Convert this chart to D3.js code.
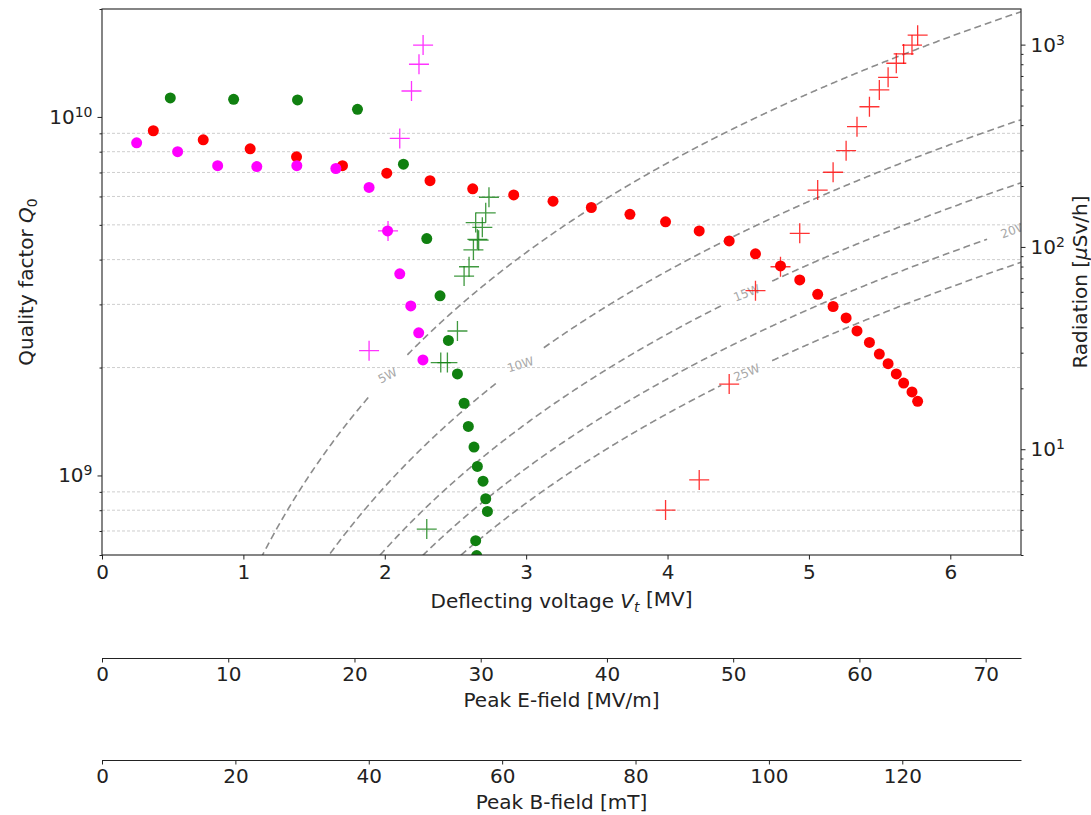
<!DOCTYPE html>
<html>
<head>
<meta charset="utf-8">
<script src="https://cdn.jsdelivr.net/npm/d3@7"></script>
<style>
  body { margin: 0; background: #fff; }
  svg text { font-family: "DejaVu Sans", sans-serif; fill: #222; }
  .axis path, .axis line { stroke: #222; }
</style>
</head>
<body>
<div id="chart"></div>
<script>
// Q0 vs deflecting voltage (circles, left axis)
const magentaV = [0.245, 0.535, 0.818, 1.095, 1.378, 1.654, 1.889, 2.02, 2.106, 2.184, 2.24, 2.27];
const magentaQ = [8.47e9, 8.0e9, 7.31e9, 7.27e9, 7.31e9, 7.18e9, 6.36e9, 4.81e9, 3.65e9, 2.97e9, 2.5e9, 2.1e9];

const redV = [0.363, 0.716, 1.048, 1.376, 1.701, 2.014, 2.32, 2.622, 2.912, 3.19, 3.461, 3.734, 3.986, 4.224,
  4.436, 4.622, 4.799, 4.935, 5.062, 5.171, 5.263, 5.34, 5.428, 5.498, 5.56, 5.618, 5.67, 5.729, 5.769];
const redQ = [9.15e9, 8.63e9, 8.15e9, 7.74e9, 7.31e9, 6.97e9, 6.64e9, 6.30e9, 6.06e9, 5.82e9, 5.59e9, 5.35e9, 5.10e9, 4.81e9,
  4.51e9, 4.15e9, 3.84e9, 3.51e9, 3.20e9, 2.96e9, 2.75e9, 2.53e9, 2.35e9, 2.18e9, 2.05e9, 1.92e9, 1.81e9, 1.71e9, 1.61e9];

const greenV = [0.483, 0.931, 1.383, 1.807, 2.132, 2.297, 2.391, 2.45, 2.514, 2.561, 2.591, 2.631, 2.655, 2.695, 2.714, 2.726, 2.643, 2.65];
const greenQ = [1.13e10, 1.12e10, 1.115e10, 1.05e10, 7.38e9, 4.58e9, 3.17e9, 2.38e9, 1.92e9, 1.59e9, 1.37e9, 1.2e9, 1.06e9,
  9.64e8, 8.61e8, 7.94e8, 6.58e8, 5.98e8];

// radiation vs deflecting voltage (crosses, right axis)
const magentaRadV = [1.889, 2.023, 2.106, 2.189, 2.242, 2.271];
const magentaRad = [30.7, 120, 344, 590, 800, 995];

const redRadV = [3.986, 4.224, 4.436, 4.622, 4.799, 4.935, 5.062, 5.171, 5.263, 5.34, 5.428, 5.498, 5.56, 5.618, 5.67, 5.729, 5.769];
const redRad = [5.0, 7.05, 21.0, 60.8, 79.8, 116.7, 191, 234, 299, 393, 493, 597, 689, 809, 900, 995, 1114];

const greenRadV = [2.297, 2.396, 2.443, 2.514, 2.561, 2.596, 2.627, 2.655, 2.664, 2.643, 2.69, 2.714, 2.737];
const greenRad = [4.03, 26.8, 26.8, 38.4, 71.8, 79.8, 96.6, 109, 108, 132, 125, 147.5, 176];

// dissipated power iso-lines, Q0 = Vt^2 / (R/Q * P)
const rOverQ = 430;
const powers = [5, 10, 15, 20, 25];
const powerLabels = ["5W", "10W", "15W", "20W", "25W"];
const powerLabelV = [2.02, 2.96, 4.56, 6.45, 4.56];
const powerLabelAngle = [-27, -17, -21, -20, -22];

// tick values
const vTicks = [0, 1, 2, 3, 4, 5, 6];
const eTicks = [0, 10, 20, 30, 40, 50, 60, 70];
const bTicks = [0, 20, 40, 60, 80, 100, 120];
const qMajor = [1e9, 1e10];
const radMajor = [1e1, 1e2, 1e3];

const ePerV = 11.2;  // MV/m per MV
const bPerV = 21.2;  // mT per MV

const width = 1091, height = 815;
const plot = { left: 102, right: 1021, top: 9, bottom: 555 };
const vMax = 6.5;
const fs = "20px";

const svg = d3.select("#chart").append("svg")
  .attr("width", width)
  .attr("height", height);

const xScale = d3.scaleLinear().domain([0, vMax]).range([plot.left, plot.right]);
const yQ = d3.scaleLog().domain([6e8, 2e10]).range([plot.bottom, plot.top]);
const yRad = d3.scaleLog().domain([3, 1500]).range([plot.bottom, plot.top]);

svg.append("defs").append("clipPath").attr("id", "clip")
  .append("rect")
  .attr("x", plot.left).attr("y", plot.top)
  .attr("width", plot.right - plot.left).attr("height", plot.bottom - plot.top);

function minorTicks(lo, hi) {
  const out = [];
  for (let e = Math.floor(Math.log10(lo)); e <= Math.ceil(Math.log10(hi)); e++) {
    for (let m = 2; m <= 9; m++) {
      const v = m * Math.pow(10, e);
      if (v >= lo * 0.999 && v <= hi * 1.001) out.push(v);
    }
  }
  return out;
}
const qMinor = minorTicks(6e8, 2e10);
const radMinor = minorTicks(3, 1500);

// grid on the minor Q ticks
svg.append("g")
  .selectAll("line")
  .data(qMinor.filter(d => yQ(d) > plot.top + 1 && yQ(d) < plot.bottom - 1))
  .join("line")
  .attr("x1", plot.left).attr("x2", plot.right)
  .attr("y1", d => yQ(d)).attr("y2", d => yQ(d))
  .attr("stroke", "#c8c8c8")
  .attr("stroke-width", 0.9)
  .attr("stroke-dasharray", "3,2");

// power lines
const gPow = svg.append("g").attr("clip-path", "url(#clip)");
const vSamples = d3.range(0.02, vMax + 0.005, 0.005);
powers.forEach((p, i) => {
  const lx = xScale(powerLabelV[i]);
  const ly = yQ(Math.pow(powerLabelV[i] * 1e6, 2) / (rOverQ * p));
  const pts = vSamples.map(v => {
    const q = Math.pow(v * 1e6, 2) / (rOverQ * p);
    const px = xScale(v), py = yQ(Math.max(q, 1e7));
    return { x: px, y: py, gap: Math.hypot(px - lx, py - ly) < 28 };
  });
  gPow.append("path")
    .datum(pts)
    .attr("fill", "none")
    .attr("stroke", "#8c8c8c")
    .attr("stroke-width", 1.6)
    .attr("stroke-dasharray", "7,4")
    .attr("d", d3.line().defined(d => !d.gap).x(d => d.x).y(d => d.y));
  gPow.append("text")
    .attr("transform", `translate(${lx},${ly}) rotate(${powerLabelAngle[i]})`)
    .attr("text-anchor", "middle")
    .attr("dominant-baseline", "central")
    .style("font-size", "12px")
    .style("fill", "#a8a8a8")
    .text(powerLabels[i]);
});

// markers
const gMarks = svg.append("g").attr("clip-path", "url(#clip)");
function circles(vs, qs, color) {
  gMarks.append("g")
    .selectAll("circle")
    .data(vs.map((v, i) => ({ v, q: qs[i] })))
    .join("circle")
    .attr("cx", d => xScale(d.v))
    .attr("cy", d => yQ(d.q))
    .attr("r", 5.5)
    .attr("fill", color);
}
function crosses(vs, rs, color) {
  const s = 10;
  gMarks.append("g")
    .selectAll("path")
    .data(vs.map((v, i) => ({ v, r: rs[i] })))
    .join("path")
    .attr("d", d => {
      const x = xScale(d.v), y = yRad(d.r);
      return `M${x - s},${y}H${x + s}M${x},${y - s}V${y + s}`;
    })
    .attr("stroke", color)
    .attr("stroke-opacity", 0.8)
    .attr("stroke-width", 1.3)
    .attr("fill", "none");
}
circles(greenV, greenQ, "#108010");
circles(redV, redQ, "#ff0000");
circles(magentaV, magentaQ, "#ff00ff");
crosses(greenRadV, greenRad, "#108010");
crosses(redRadV, redRad, "#ff0000");
crosses(magentaRadV, magentaRad, "#ff00ff");

// frame
svg.append("rect")
  .attr("x", plot.left).attr("y", plot.top)
  .attr("width", plot.right - plot.left).attr("height", plot.bottom - plot.top)
  .attr("fill", "none").attr("stroke", "#222").attr("stroke-width", 1.1);

function supLabel(sel, exp) {
  sel.text(null);
  sel.append("tspan").text("10");
  sel.append("tspan").attr("dy", "-0.5em").style("font-size", "70%").text(exp);
}

// x axis
const xAxis = d3.axisBottom(xScale).tickValues(vTicks).tickSize(4.5).tickPadding(5).tickFormat(d3.format("d"));
svg.append("g")
  .attr("class", "axis x-axis")
  .attr("transform", `translate(0,${plot.bottom})`)
  .call(xAxis)
  .call(g => g.select(".domain").remove())
  .selectAll("text").style("font-size", fs).attr("font-family", null);

// left log axis
const gLeft = svg.append("g").attr("class", "axis").attr("transform", `translate(${plot.left},0)`);
gLeft.call(d3.axisLeft(yQ).tickValues(qMinor).tickSize(2.5).tickFormat(""))
  .call(g => g.select(".domain").remove());
gLeft.append("g")
  .call(d3.axisLeft(yQ).tickValues(qMajor).tickSize(4.5).tickPadding(5).tickFormat(""))
  .call(g => g.select(".domain").remove())
  .selectAll(".tick text")
  .style("font-size", fs)
  .attr("font-family", null)
  .each(function (d) { supLabel(d3.select(this), String(Math.round(Math.log10(d)))); });

// right log axis
const gRight = svg.append("g").attr("class", "axis").attr("transform", `translate(${plot.right},0)`);
gRight.call(d3.axisRight(yRad).tickValues(radMinor).tickSize(2.5).tickFormat(""))
  .call(g => g.select(".domain").remove());
gRight.append("g")
  .call(d3.axisRight(yRad).tickValues(radMajor).tickSize(4.5).tickPadding(5).tickFormat(""))
  .call(g => g.select(".domain").remove())
  .selectAll(".tick text")
  .style("font-size", fs)
  .attr("font-family", null)
  .each(function (d) { supLabel(d3.select(this), String(Math.round(Math.log10(d)))); });

// secondary field axes
const eScale = d3.scaleLinear().domain([0, vMax * ePerV]).range([plot.left, plot.right]);
const bScale = d3.scaleLinear().domain([0, vMax * bPerV]).range([plot.left, plot.right]);
[[eScale, eTicks, 658], [bScale, bTicks, 760]].forEach(([sc, ticks, y]) => {
  svg.append("g")
    .attr("class", "axis")
    .attr("transform", `translate(0,${y})`)
    .call(d3.axisBottom(sc).tickValues(ticks).tickSize(4.5).tickSizeOuter(0).tickPadding(4).tickFormat(d3.format("d")))
    .selectAll("text").style("font-size", fs).attr("font-family", null);
});

// axis labels
const xl = svg.append("text")
  .attr("x", (plot.left + plot.right) / 2).attr("y", 608)
  .attr("text-anchor", "middle").style("font-size", fs);
xl.append("tspan").text("Deflecting voltage ");
xl.append("tspan").style("font-style", "italic").text("V");
xl.append("tspan").attr("dy", "0.3em").style("font-size", "70%").style("font-style", "italic").text("t");
xl.append("tspan").attr("dy", "-0.3em").text(" [MV]");

svg.append("text")
  .attr("x", (plot.left + plot.right) / 2).attr("y", 707)
  .attr("text-anchor", "middle").style("font-size", fs)
  .text("Peak E-field [MV/m]");

svg.append("text")
  .attr("x", (plot.left + plot.right) / 2).attr("y", 809)
  .attr("text-anchor", "middle").style("font-size", fs)
  .text("Peak B-field [mT]");

const yl = svg.append("text")
  .attr("transform", `translate(33,${(plot.top + plot.bottom) / 2}) rotate(-90)`)
  .attr("text-anchor", "middle").style("font-size", fs);
yl.append("tspan").text("Quality factor ");
yl.append("tspan").style("font-style", "italic").text("Q");
yl.append("tspan").attr("dy", "0.3em").style("font-size", "70%").text("0");

const yr = svg.append("text")
  .attr("transform", `translate(1087,${(plot.top + plot.bottom) / 2}) rotate(-90)`)
  .attr("text-anchor", "middle").style("font-size", fs);
yr.append("tspan").text("Radiation [");
yr.append("tspan").style("font-style", "italic").text("μ");
yr.append("tspan").text("Sv/h]");
</script>
</body>
</html>
